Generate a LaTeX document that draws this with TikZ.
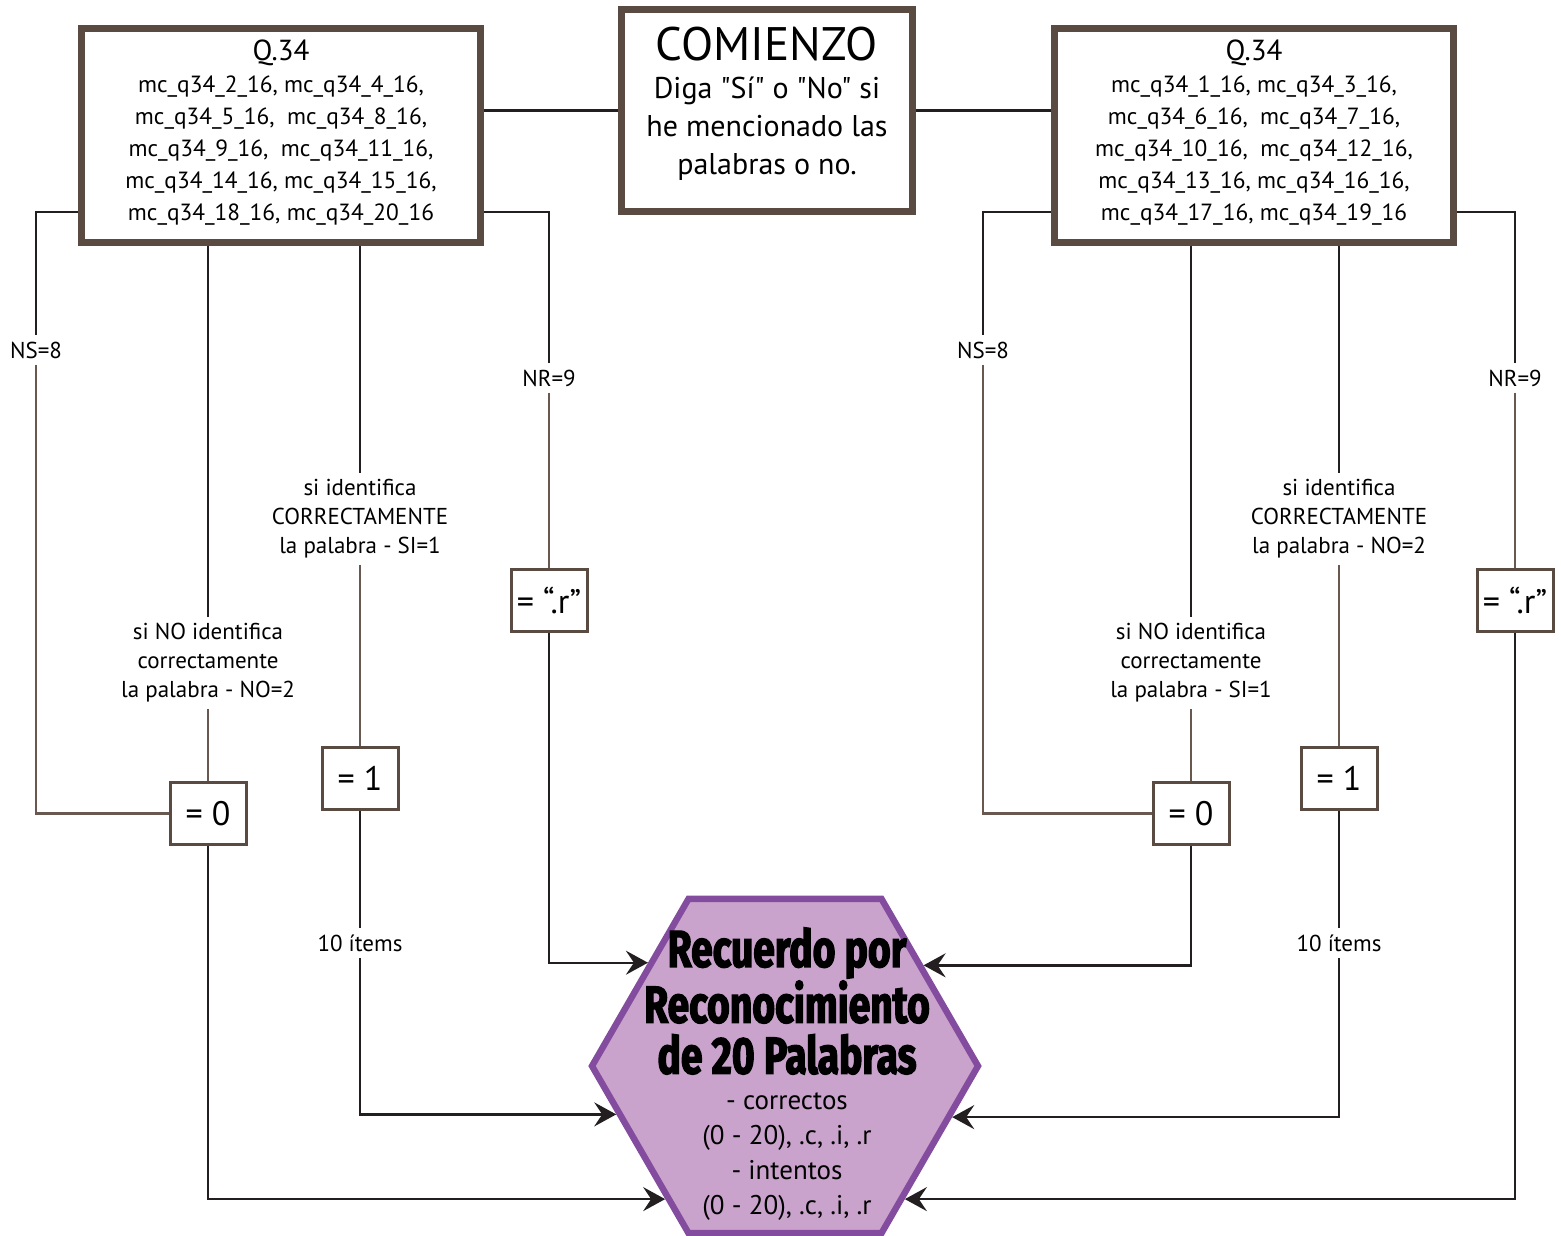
\documentclass[tikz,border=0pt]{standalone}
\usepackage{fontspec}
\setmainfont{PT Sans}[Ligatures=TeXOff]
\newfontfamily\heavyfont[FakeStretch=0.75,FakeBold=2.5]{Fira Sans}
\usepackage{tikz}
\usetikzlibrary{arrows.meta}
\usetikzlibrary{shapes.geometric}
\definecolor{boxbrown}{RGB}{89,74,66}
\definecolor{linedark}{RGB}{35,31,32}
\definecolor{linebrown}{RGB}{104,88,80}
\definecolor{hexfill}{RGB}{201,163,204}
\definecolor{hexline}{RGB}{131,76,158}

\begin{document}
\begin{tikzpicture}[x=0.5pt, y=-0.5pt,
qbox/.style={rectangle, draw=boxbrown, line width=3.5pt, fill=white, inner sep=0pt, text depth=5.5pt,
minimum width=199.5pt, minimum height=107pt, align=center, font=\fontsize{11.7}{16}\selectfont},
startbox/.style={qbox, minimum width=145.5pt, minimum height=101pt, text depth=10pt, font=\fontsize{15}{19}\selectfont},
valbox/.style={rectangle, draw=boxbrown, line width=1.5pt, fill=white, inner sep=0pt,
minimum width=38pt, minimum height=31pt, font=\fontsize{17}{20}\selectfont},
lab/.style={align=center, inner sep=3pt, font=\fontsize{11.5}{14.5}\selectfont},
hexbox/.style={regular polygon, regular polygon sides=6, minimum size=193pt, inner sep=0pt,
fill=hexfill, draw=hexline, line width=3.2pt},
dk/.style={draw=linedark, line width=1.2pt},
br/.style={draw=linebrown, line width=1.2pt},
arr/.style={dk, -{Stealth[length=11pt, width=12pt, inset=4pt]}}
]
\useasboundingbox (0,0) rectangle (1561,1235);

\node[qbox] (qL) at (281,135.5) {{\fontsize{14.5}{16}\selectfont Q.34}\\
mc\_q34\_2\_16, mc\_q34\_4\_16,\\ mc\_q34\_5\_16,\ \ mc\_q34\_8\_16,\\
mc\_q34\_9\_16,\ \ mc\_q34\_11\_16,\\ mc\_q34\_14\_16, mc\_q34\_15\_16,\\
mc\_q34\_18\_16, mc\_q34\_20\_16};
\node[startbox] (start) at (767,110.5) {{\fontsize{23.5}{24}\selectfont COMIENZO}\\
Diga "Sí" o "No" si\\ he mencionado las\\ palabras o no.};
\node[qbox] (qR) at (1254,135.5) {{\fontsize{14.5}{16}\selectfont Q.34}\\
mc\_q34\_1\_16, mc\_q34\_3\_16,\\ mc\_q34\_6\_16,\ \ mc\_q34\_7\_16,\\
mc\_q34\_10\_16,\ \ mc\_q34\_12\_16,\\ mc\_q34\_13\_16, mc\_q34\_16\_16,\\
mc\_q34\_17\_16, mc\_q34\_19\_16};

\node[lab] (nsL) at (36,350) {NS=8};
\node[lab] (siL) at (360,519) {si identifica\\ CORRECTAMENTE\\ la palabra - SI=1};
\node[lab] (noL) at (208,663) {si NO identifica\\ correctamente\\ la palabra - NO=2};
\node[lab] (nrL) at (549,378) {NR=9};
\node[valbox] (zeroL) at (208,813.5) {= 0};
\node[valbox] (oneL) at (360,778.5) {= 1};
\node[valbox] (rL) at (549,600) {= “.r”};
\node[lab] (itemsL) at (360,943) {10 ítems};

\node[lab] (nsR) at (983,350) {NS=8};
\node[lab] (siR) at (1339,519) {si identifica\\ CORRECTAMENTE\\ la palabra - NO=2};
\node[lab] (noR) at (1191,663) {si NO identifica\\ correctamente\\ la palabra - SI=1};
\node[lab] (nrR) at (1515,378) {NR=9};
\node[valbox] (zeroR) at (1191,813.5) {= 0};
\node[valbox] (oneR) at (1339,778.5) {= 1};
\node[valbox] (rR) at (1515,600) {= “.r”};
\node[lab] (itemsR) at (1339,943) {10 ítems};

\node[hexbox] (hex) at (785,1066) {};
\node[align=center, font=\fontsize{26}{25.5}\heavyfont\bfseries] (hexTitle) at (787,1001)
{Recuerdo por\\ Reconocimiento\\ de 20 Palabras};
\node[align=center, font=\fontsize{13.5}{17.5}\selectfont] (hexSub) at (787,1157)
{- correctos\\ (0 - 20), .c, .i, .r\\ - intentos\\ (0 - 20), .c, .i, .r};

\draw[dk] (start.west) -- (start.west -| qL.east);
\draw[dk] (start.east) -- (start.east -| qR.west);

\draw[dk] ([yshift=17pt]qL.south west) -| (nsL);
\draw[br] (nsL) |- (zeroL);
\draw[dk] (qL.south -| noL) -- (noL);
\draw[br] (noL) -- (zeroL);
\draw[dk] (qL.south -| siL) -- (siL);
\draw[br] (siL) -- (oneL);
\draw[dk] ([yshift=17pt]qL.south east) -| (nrL);
\draw[br] (nrL) -- (rL);
\draw[dk] (oneL) -- (itemsL);
\draw[arr] (itemsL) |- (hex.196.6);
\draw[arr] (zeroL) |- (hex.228);
\draw[arr] (rL) |- (hex.143.5);

\draw[dk] ([yshift=17pt]qR.south west) -| (nsR);
\draw[br] (nsR) |- (zeroR);
\draw[dk] (qR.south -| noR) -- (noR);
\draw[br] (noR) -- (zeroR);
\draw[dk] (qR.south -| siR) -- (siR);
\draw[br] (siR) -- (oneR);
\draw[dk] ([yshift=17pt]qR.south east) -| (nrR);
\draw[br] (nrR) -- (rR);
\draw[dk] (oneR) -- (itemsR);
\draw[arr] (itemsR) |- (hex.343.4);
\draw[arr] (zeroR) |- (hex.36.5);
\draw[arr] (rR) |- (hex.312);
\end{tikzpicture}
\end{document}
